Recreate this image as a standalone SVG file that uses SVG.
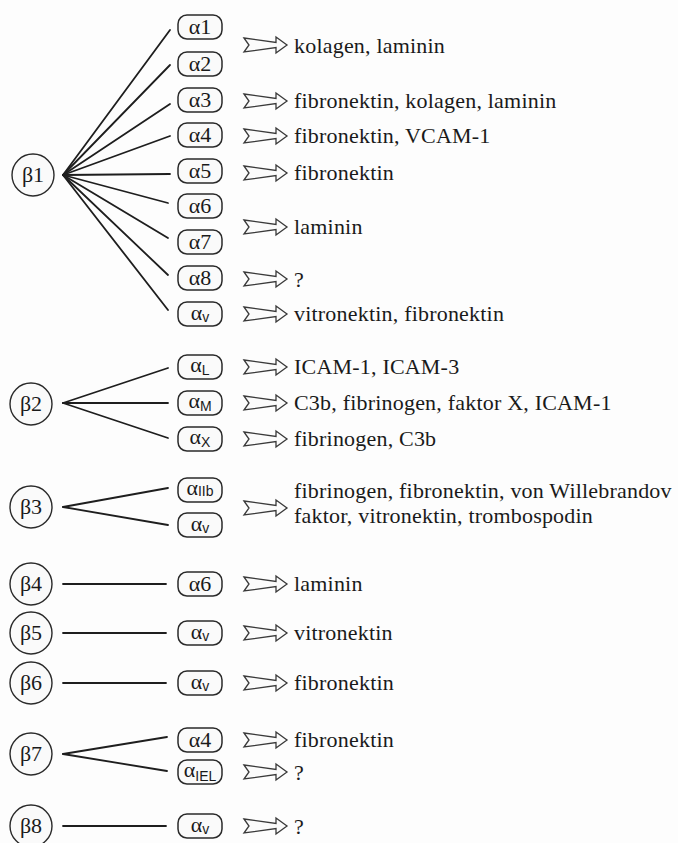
<svg xmlns="http://www.w3.org/2000/svg" width="678" height="843" viewBox="0 0 678 843">
<defs>
<style>
.bg{fill:#fdfdfd}
.cir{fill:#fafafa;stroke:#2a2a2a;stroke-width:1.4}
.box{fill:#fafafa;stroke:#2a2a2a;stroke-width:1.5}
.ln{stroke:#1e1e1e;stroke-width:1.8;fill:none;stroke-linecap:round}
.arr{fill:#fbfbfb;stroke:#3a3a3a;stroke-width:1.3;stroke-linejoin:miter}
.lbl{font-family:'Liberation Serif','DejaVu Serif',serif;font-size:22px;fill:#1a1a1a;text-anchor:middle}
.sub{font-family:'Liberation Sans','DejaVu Sans',sans-serif;font-size:14px}
.txt{font-family:'Liberation Serif','DejaVu Serif',serif;font-size:22px;letter-spacing:0.2px;fill:#1a1a1a}
</style>
<path id="arrow" class="arr" d="M0,-7 L32,-2.5 L32,-8 L43,0 L32,8 L32,2.5 L0,7 L5,0 Z"/>
</defs>
<rect class="bg" x="0" y="0" width="678" height="843"/>

<g id="connectors">
<line class="ln" x1="63" y1="175" x2="170" y2="30"/>
<line class="ln" x1="63" y1="175" x2="170" y2="65"/>
<line class="ln" x1="63" y1="175" x2="170" y2="104"/>
<line class="ln" x1="63" y1="175" x2="170" y2="136"/>
<line class="ln" x1="63" y1="175" x2="170" y2="174"/>
<line class="ln" x1="63" y1="175" x2="168" y2="203"/>
<line class="ln" x1="63" y1="175" x2="168" y2="238"/>
<line class="ln" x1="63" y1="175" x2="168" y2="275"/>
<line class="ln" x1="63" y1="175" x2="168" y2="310"/>
<line class="ln" x1="63" y1="403" x2="168" y2="368"/>
<line class="ln" x1="63" y1="403" x2="168" y2="403"/>
<line class="ln" x1="63" y1="403" x2="168" y2="438"/>
<line class="ln" x1="63" y1="507" x2="168" y2="488"/>
<line class="ln" x1="63" y1="507" x2="168" y2="525"/>
<line class="ln" x1="63" y1="584" x2="166" y2="584"/>
<line class="ln" x1="63" y1="633" x2="166" y2="633"/>
<line class="ln" x1="63" y1="683" x2="166" y2="683"/>
<line class="ln" x1="63" y1="754" x2="167" y2="737"/>
<line class="ln" x1="63" y1="754" x2="167" y2="771"/>
<line class="ln" x1="63" y1="826" x2="166" y2="826"/>
</g>

<g id="b1"><circle class="cir" cx="33" cy="175" r="21"/><text class="lbl" x="33" y="182">β1</text></g>
<g id="b2"><circle class="cir" cx="31" cy="404" r="21"/><text class="lbl" x="31" y="411">β2</text></g>
<g id="b3"><circle class="cir" cx="31" cy="507" r="21"/><text class="lbl" x="31" y="514">β3</text></g>
<g id="b4"><circle class="cir" cx="31" cy="584" r="21"/><text class="lbl" x="31" y="591">β4</text></g>
<g id="b5"><circle class="cir" cx="31" cy="633" r="21"/><text class="lbl" x="31" y="640">β5</text></g>
<g id="b6"><circle class="cir" cx="31" cy="683" r="21"/><text class="lbl" x="31" y="690">β6</text></g>
<g id="b7"><circle class="cir" cx="31" cy="754" r="21"/><text class="lbl" x="31" y="761">β7</text></g>
<g id="b8"><circle class="cir" cx="31" cy="826" r="21"/><text class="lbl" x="31" y="833">β8</text></g>

<g id="b1-a1"><rect class="box" x="178" y="15" width="44" height="24" rx="9"/><text class="lbl" x="200" y="34">α1</text></g>
<g id="b1-a2"><rect class="box" x="178" y="52" width="44" height="24" rx="9"/><text class="lbl" x="200" y="71">α2</text></g>
<g id="b1-a3"><rect class="box" x="178" y="88" width="44" height="24" rx="9"/><text class="lbl" x="200" y="107">α3</text></g>
<g id="b1-a4"><rect class="box" x="178" y="123" width="44" height="24" rx="9"/><text class="lbl" x="200" y="142">α4</text></g>
<g id="b1-a5"><rect class="box" x="178" y="159" width="44" height="24" rx="9"/><text class="lbl" x="200" y="178">α5</text></g>
<g id="b1-a6"><rect class="box" x="178" y="194" width="44" height="24" rx="9"/><text class="lbl" x="200" y="213">α6</text></g>
<g id="b1-a7"><rect class="box" x="178" y="230" width="44" height="24" rx="9"/><text class="lbl" x="200" y="249">α7</text></g>
<g id="b1-a8"><rect class="box" x="178" y="266" width="44" height="24" rx="9"/><text class="lbl" x="200" y="285">α8</text></g>
<g id="b1-av"><rect class="box" x="178" y="302" width="44" height="24" rx="9"/><text class="lbl" x="200" y="320">α<tspan class="sub" font-size="18" dy="2">v</tspan></text></g>

<g id="b2-aL"><rect class="box" x="178" y="355" width="44" height="24" rx="9"/><text class="lbl" x="200" y="372">α<tspan class="sub" dy="3">L</tspan></text></g>
<g id="b2-aM"><rect class="box" x="178" y="391" width="44" height="24" rx="9"/><text class="lbl" x="200" y="408">α<tspan class="sub" font-size="16" dy="3">M</tspan></text></g>
<g id="b2-aX"><rect class="box" x="178" y="427" width="44" height="24" rx="9"/><text class="lbl" x="200" y="444">α<tspan class="sub" font-size="16" dy="3">X</tspan></text></g>

<g id="b3-aIIb"><rect class="box" x="178" y="478" width="44" height="24" rx="9"/><text class="lbl" x="200" y="495">α<tspan class="sub" font-size="15" dy="1">IIb</tspan></text></g>
<g id="b3-av"><rect class="box" x="178" y="513" width="44" height="24" rx="9"/><text class="lbl" x="200" y="531">α<tspan class="sub" font-size="18" dy="2">v</tspan></text></g>

<g id="b4-a6"><rect class="box" x="178" y="572" width="44" height="24" rx="9"/><text class="lbl" x="200" y="591">α6</text></g>
<g id="b5-av"><rect class="box" x="178" y="621" width="44" height="24" rx="9"/><text class="lbl" x="200" y="639">α<tspan class="sub" font-size="18" dy="2">v</tspan></text></g>
<g id="b6-av"><rect class="box" x="178" y="671" width="44" height="24" rx="9"/><text class="lbl" x="200" y="689">α<tspan class="sub" font-size="18" dy="2">v</tspan></text></g>
<g id="b7-a4"><rect class="box" x="178" y="728" width="44" height="24" rx="9"/><text class="lbl" x="200" y="747">α4</text></g>
<g id="b7-aIEL"><rect class="box" x="178" y="760" width="44" height="24" rx="9"/><text class="lbl" x="200" y="777">α<tspan class="sub" font-size="11" dy="4">IEL</tspan></text></g>
<g id="b8-av"><rect class="box" x="178" y="814" width="44" height="24" rx="9"/><text class="lbl" x="200" y="832">α<tspan class="sub" font-size="18" dy="2">v</tspan></text></g>

<g id="ligands">
<use href="#arrow" x="244" y="45"/><text class="txt" x="294" y="53">kolagen, laminin</text>
<use href="#arrow" x="244" y="101"/><text class="txt" x="294" y="108">fibronektin, kolagen, laminin</text>
<use href="#arrow" x="244" y="136"/><text class="txt" x="294" y="143">fibronektin, VCAM-1</text>
<use href="#arrow" x="244" y="173"/><text class="txt" x="294" y="180">fibronektin</text>
<use href="#arrow" x="244" y="227"/><text class="txt" x="294" y="234">laminin</text>
<use href="#arrow" x="244" y="279"/><text class="txt" x="294" y="287">?</text>
<use href="#arrow" x="244" y="314"/><text class="txt" x="294" y="321">vitronektin, fibronektin</text>
<use href="#arrow" x="244" y="367"/><text class="txt" x="294" y="374">ICAM-1, ICAM-3</text>
<use href="#arrow" x="244" y="403"/><text class="txt" x="294" y="410">C3b, fibrinogen, faktor X, ICAM-1</text>
<use href="#arrow" x="244" y="439"/><text class="txt" x="294" y="446">fibrinogen, C3b</text>
<use href="#arrow" x="244" y="508"/><text class="txt" x="294" y="498">fibrinogen, fibronektin, von Willebrandov</text><text class="txt" x="294" y="523">faktor, vitronektin, trombospodin</text>
<use href="#arrow" x="244" y="584"/><text class="txt" x="294" y="591">laminin</text>
<use href="#arrow" x="244" y="633"/><text class="txt" x="294" y="640">vitronektin</text>
<use href="#arrow" x="244" y="683"/><text class="txt" x="294" y="690">fibronektin</text>
<use href="#arrow" x="244" y="740"/><text class="txt" x="294" y="747">fibronektin</text>
<use href="#arrow" x="244" y="772"/><text class="txt" x="294" y="780">?</text>
<use href="#arrow" x="244" y="826"/><text class="txt" x="294" y="834">?</text>
</g>
</svg>
